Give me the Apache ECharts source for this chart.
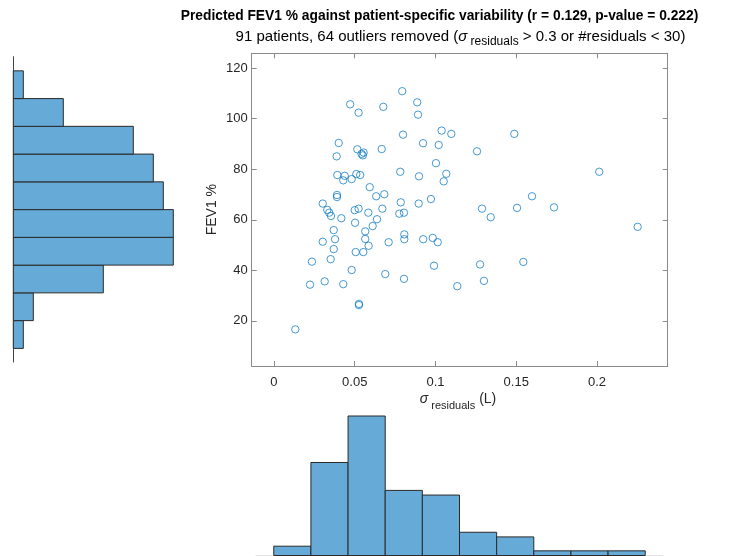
<!DOCTYPE html>
<html>
<head>
<meta charset="utf-8">
<script src="https://cdn.jsdelivr.net/npm/echarts@6/dist/echarts.min.js"></script>
<style>
  html, body { margin: 0; padding: 0; background: #fff; }
  #chart { width: 740px; height: 556px; }
</style>
</head>
<body>
<div id="chart"></div>
<script>
// Patient-specific variability of the residuals (L) and predicted FEV1 %
const sigmaResiduals = [
  0.0794, 0.0472, 0.0887, 0.0677, 0.0524, 0.0892, 0.1038, 0.1098, 0.0799, 0.0401,
  0.0923, 0.1020, 0.1257, 0.0516, 0.0667, 0.0555, 0.0542, 0.0550, 0.0388, 0.1003,
  0.0782, 0.1067, 0.0392, 0.0438, 0.0510, 0.0534, 0.0898, 0.0429, 0.0481, 0.1051,
  0.1488, 0.2014, 0.0593, 0.0633, 0.0683, 0.0390, 0.0390, 0.0972, 0.0302, 0.0785,
  0.0896, 0.1598, 0.0330, 0.0500, 0.0524, 0.0671, 0.1288, 0.1505, 0.1734, 0.0342,
  0.0353, 0.0584, 0.0776, 0.0805, 0.1342, 0.0417, 0.0638, 0.0502, 0.0611, 0.2252,
  0.0370, 0.0565, 0.0807, 0.0807, 0.0924, 0.0983, 0.1014, 0.0302, 0.0378, 0.0565,
  0.0710, 0.0586, 0.0370, 0.0506, 0.0553, 0.0351, 0.0235, 0.1544, 0.1276, 0.0991,
  0.0481, 0.0689, 0.0805, 0.1300, 0.0223, 0.0314, 0.0429, 0.1135, 0.0526, 0.0526, 0.0132
];
const fev1Percent = [
  110.9, 105.7, 106.5, 104.7, 102.4, 101.6, 95.3, 94.0, 93.7, 90.4,
  90.3, 89.6, 87.1, 87.9, 88.0, 86.6, 86.1, 85.5, 85.1, 82.4,
  79.0, 78.2, 77.7, 77.4, 78.1, 77.7, 77.2, 75.6, 76.1, 75.2,
  94.0, 79.0, 72.9, 69.3, 70.1, 69.8, 69.0, 68.2, 66.4, 66.9,
  66.4, 69.3, 63.9, 63.8, 64.4, 64.4, 64.4, 64.7, 64.9, 62.8,
  61.5, 62.8, 62.4, 62.8, 61.0, 60.6, 60.2, 58.8, 57.5, 57.2,
  55.9, 55.4, 54.2, 52.3, 52.3, 52.8, 51.1, 51.3, 52.3, 52.4,
  51.1, 49.7, 48.4, 47.2, 47.2, 44.4, 43.4, 43.3, 42.3, 41.8,
  40.1, 38.5, 36.6, 35.8, 34.3, 35.6, 34.5, 33.7, 26.7, 26.2, 16.6
];

// Marginal histograms: bin edges and counts
const fevEdges = [9, 20, 31, 42, 53, 64, 75, 86, 97, 108, 119];
const fevCounts = [1, 2, 9, 16, 16, 15, 14, 12, 5, 1];
const sigmaEdges = [0, 0.023, 0.046, 0.069, 0.092, 0.115, 0.138, 0.161, 0.184, 0.207, 0.23];
const sigmaCounts = [2, 20, 30, 14, 13, 5, 4, 1, 1, 1];

// Tick labels
const xTicks = [0, 0.05, 0.1, 0.15, 0.2];
const yTicks = [20, 40, 60, 80, 100, 120];

const FONT = '"Liberation Sans", Arial, Helvetica, sans-serif';
const BAR_FILL = '#66aad7';
const BAR_EDGE = '#2a2a2a';
const BOX = '#8a8a8a';
const TXT = '#262626';

const points = sigmaResiduals.map((s, i) => [s, fev1Percent[i]]);
const fevBins = fevCounts.map((n, i) => [fevEdges[i], fevEdges[i + 1], n]);
const sigmaBins = sigmaCounts.map((n, i) => [sigmaEdges[i], sigmaEdges[i + 1], n]);

const chart = echarts.init(document.getElementById('chart'), null, { renderer: 'canvas' });

const boxAxis = (extra) => Object.assign({
  type: 'value',
  axisLine: { show: true, onZero: false, lineStyle: { color: BOX, width: 1 } },
  axisTick: { show: true, inside: true, length: 5, lineStyle: { color: BOX, width: 1 } },
  axisLabel: { show: false },
  splitLine: { show: false }
}, extra);

// Rich-text styles for the sigma with its "residuals" subscript
const subRich = (size, subSize, drop, color) => ({
  n: { fontSize: size, fontFamily: FONT, fill: color, verticalAlign: 'top', lineHeight: size + 2 },
  s: { fontSize: size, fontFamily: FONT, fontStyle: 'italic', fill: color, verticalAlign: 'top', lineHeight: size + 2 },
  sub: { fontSize: subSize, fontFamily: FONT, fill: color, verticalAlign: 'top', lineHeight: subSize + 2, padding: [drop, 0, 0, 0] }
});

const option = {
  animation: false,
  backgroundColor: '#ffffff',
  textStyle: { fontFamily: FONT },
  grid: [
    { left: 251.7, top: 53.3, width: 416, height: 312.7 },   // scatter
    { left: 13.3, top: 56.7, width: 200, height: 305.3 },    // FEV1 histogram
    { left: 256, top: 406.7, width: 407, height: 148.8 }     // sigma histogram
  ],
  xAxis: [
    boxAxis({
      gridIndex: 0, position: 'bottom', min: -0.0138, max: 0.2438,
      axisTick: { show: true, inside: true, length: 5, customValues: xTicks, lineStyle: { color: BOX } },
      axisLabel: {
        show: true, customValues: xTicks, color: TXT, fontSize: 13, fontFamily: FONT, margin: 10,
        formatter: v => String(v)
      }
    }),
    boxAxis({
      gridIndex: 0, position: 'top', min: -0.0138, max: 0.2438,
      axisTick: { show: true, inside: true, length: 5, customValues: xTicks, lineStyle: { color: BOX } }
    }),
    { type: 'value', gridIndex: 1, min: 0, max: 20, show: false },
    {
      type: 'value', gridIndex: 2, min: -0.011, max: 0.241,
      axisLine: { show: true, onZero: false, lineStyle: { color: '#e3e3e3', width: 1 } },
      axisTick: { show: false }, axisLabel: { show: false }, splitLine: { show: false }
    }
  ],
  yAxis: [
    boxAxis({
      gridIndex: 0, position: 'left', min: 2.1, max: 125.9,
      axisTick: { show: true, inside: true, length: 5, customValues: yTicks, lineStyle: { color: BOX } },
      axisLabel: { show: true, customValues: yTicks, color: TXT, fontSize: 13, fontFamily: FONT, margin: 4 },
      name: 'FEV1 %', nameLocation: 'middle', nameGap: 33, nameMoveOverlap: false,
      nameTextStyle: { color: TXT, fontSize: 14, fontFamily: FONT }
    }),
    boxAxis({
      gridIndex: 0, position: 'right', min: 2.1, max: 125.9,
      axisTick: { show: true, inside: true, length: 5, customValues: yTicks, lineStyle: { color: BOX } }
    }),
    {
      type: 'value', gridIndex: 1, min: 3.6, max: 124.6,
      axisLine: { show: true, onZero: false, lineStyle: { color: '#444', width: 1 } },
      axisTick: { show: false }, axisLabel: { show: false }, splitLine: { show: false }
    },
    { type: 'value', gridIndex: 2, min: 0, max: 32, show: false }
  ],
  graphic: [
    {
      type: 'text', x: 439.5, y: 16,
      style: {
        align: 'center', verticalAlign: 'middle',
        text: 'Predicted FEV1 % against patient-specific variability (r = 0.129, p-value = 0.222)',
        font: 'bold 13.8px ' + FONT, fill: '#000'
      }
    },
    {
      type: 'text', x: 460.5, y: 29,
      style: {
        align: 'center', verticalAlign: 'top',
        text: '{n|91 patients, 64 outliers removed (}{s|σ}{sub| residuals}{n| > 0.3 or #residuals < 30)}',
        rich: subRich(15, 12, 7, '#000')
      }
    },
    {
      type: 'text', x: 458, y: 392,
      style: {
        align: 'center', verticalAlign: 'top',
        text: '{s|σ}{sub| residuals}{n| (L)}',
        rich: subRich(14, 11, 8, TXT)
      }
    }
  ],
  series: [
    {
      type: 'scatter', xAxisIndex: 0, yAxisIndex: 0,
      data: points, symbol: 'circle', symbolSize: 7.4,
      itemStyle: { color: 'rgba(0,0,0,0)', borderColor: '#0072BD', borderWidth: 0.9 },
      emphasis: { disabled: true }
    },
    {
      type: 'custom', xAxisIndex: 2, yAxisIndex: 2,
      data: fevBins, encode: { x: 2, y: [0, 1] },
      renderItem: (params, api) => {
        const p0 = api.coord([0, api.value(0)]);
        const p1 = api.coord([api.value(2), api.value(1)]);
        return {
          type: 'rect',
          shape: { x: p0[0], y: p1[1], width: p1[0] - p0[0], height: p0[1] - p1[1] },
          style: { fill: BAR_FILL, stroke: BAR_EDGE, lineWidth: 1 }
        };
      }
    },
    {
      type: 'custom', xAxisIndex: 3, yAxisIndex: 3,
      data: sigmaBins, encode: { x: [0, 1], y: 2 },
      renderItem: (params, api) => {
        const p0 = api.coord([api.value(0), 0]);
        const p1 = api.coord([api.value(1), api.value(2)]);
        return {
          type: 'rect',
          shape: { x: p0[0], y: p1[1], width: p1[0] - p0[0], height: p0[1] - p1[1] },
          style: { fill: BAR_FILL, stroke: BAR_EDGE, lineWidth: 1 }
        };
      }
    }
  ]
};

chart.setOption(option);
</script>
</body>
</html>
